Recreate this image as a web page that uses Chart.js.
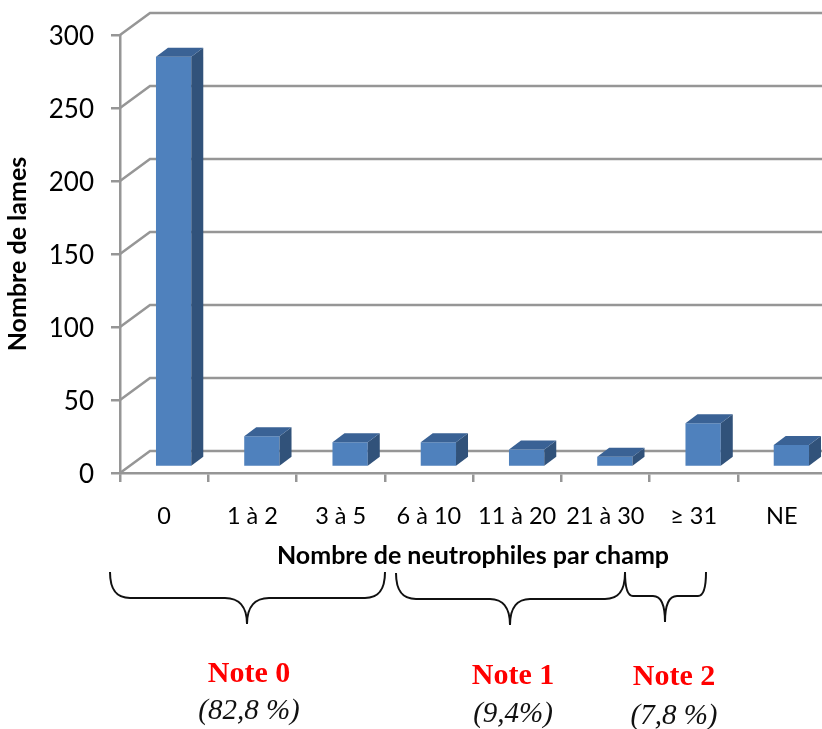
<!DOCTYPE html>
<html>
<head>
<meta charset="utf-8">
<script src="https://cdn.jsdelivr.net/npm/chart.js@4"></script>
<style>
  html, body { margin: 0; padding: 0; background: #fff; overflow: hidden; }
  canvas { display: block; }
</style>
</head>
<body>
<canvas id="neutrophilesChart" width="826" height="729"></canvas>
<script>
const categories = ['0', '1 à 2', '3 à 5', '6 à 10', '11 à 20', '21 à 30', '≥ 31', 'NE'];
const lames = [281, 21, 17, 17, 12, 7, 30, 15];
const noteLabels = ['Note 0', 'Note 1', 'Note 2'];
const notePercents = ['(82,8 %)', '(9,4%)', '(7,8 %)'];

const gridColor = '#969696';
const uiFont = 'Lato, sans-serif';

// Parois et relief 3D, calés sur les échelles du graphique
const wallPlugin = {
  id: 'wall3d',
  beforeDatasetsDraw(chart) {
    const { ctx, chartArea, scales } = chart;
    ctx.save();
    ctx.strokeStyle = gridColor;
    ctx.lineWidth = 2.5;
    scales.y.ticks.forEach(tick => {
      const y = scales.y.getPixelForValue(tick.value);
      ctx.beginPath();
      ctx.moveTo(chartArea.left, y);
      ctx.lineTo(chartArea.left + 30, y - 22);
      ctx.lineTo(chartArea.right, y - 22);
      ctx.stroke();
    });
    ctx.restore();
    // les barres sont posées au milieu du plancher
    ctx.save();
    ctx.translate(9.5, -6);
  },
  afterDatasetsDraw(chart) {
    const { ctx } = chart;
    const dx = 12, dy = 9;
    chart.getDatasetMeta(0).data.forEach(bar => {
      const left = bar.x - bar.width / 2;
      const right = bar.x + bar.width / 2;
      ctx.fillStyle = '#31527a';
      ctx.beginPath();
      ctx.moveTo(right, bar.y);
      ctx.lineTo(right + dx, bar.y - dy);
      ctx.lineTo(right + dx, bar.base - dy);
      ctx.lineTo(right, bar.base);
      ctx.closePath();
      ctx.fill();
      ctx.fillStyle = '#3a6295';
      ctx.beginPath();
      ctx.moveTo(left, bar.y);
      ctx.lineTo(left + dx, bar.y - dy);
      ctx.lineTo(right + dx, bar.y - dy);
      ctx.lineTo(right, bar.y);
      ctx.closePath();
      ctx.fill();
    });
    ctx.restore();
  }
};

function drawBrace(ctx, x1, x2, tip, top, mid, end, r, s) {
  ctx.beginPath();
  ctx.moveTo(x1, top);
  ctx.bezierCurveTo(x1, mid - 6, x1 + r * 0.4, mid, x1 + r, mid);
  ctx.lineTo(tip - s, mid);
  ctx.bezierCurveTo(tip - s * 0.4, mid, tip, mid + 8, tip, end);
  ctx.bezierCurveTo(tip, mid + 8, tip + s * 0.4, mid, tip + s, mid);
  ctx.lineTo(x2 - r, mid);
  ctx.bezierCurveTo(x2 - r * 0.4, mid, x2, mid - 6, x2, top);
  ctx.stroke();
}

// Accolades et notes sous le graphique
const notesPlugin = {
  id: 'notes',
  afterDraw(chart) {
    const { ctx } = chart;
    ctx.save();
    ctx.strokeStyle = '#111';
    ctx.lineWidth = 2;
    drawBrace(ctx, 110, 385, 247, 572, 598, 624, 20, 22);
    drawBrace(ctx, 396, 625, 510, 573, 599, 625, 20, 20);
    drawBrace(ctx, 625, 706, 665, 572, 596, 622, 8, 12);

    ctx.textAlign = 'center';
    ctx.textBaseline = 'middle';
    const xs = [249, 513, 674];
    const yNote = [674, 676, 677];
    const yPct = [711, 714, 716];
    noteLabels.forEach((label, i) => {
      ctx.font = 'bold 30px "Liberation Serif", serif';
      ctx.fillStyle = '#ff0000';
      ctx.fillText(label, xs[i], yNote[i]);
      ctx.font = 'italic 29px "Liberation Serif", serif';
      ctx.fillStyle = '#111';
      ctx.fillText(notePercents[i], xs[i], yPct[i]);
    });
    ctx.restore();
  }
};

const ctx = document.getElementById('neutrophilesChart').getContext('2d');

new Chart(ctx, {
  type: 'bar',
  data: {
    labels: categories,
    datasets: [{
      label: 'Nombre de lames',
      data: lames,
      backgroundColor: '#4f81bd',
      borderWidth: 0,
      categoryPercentage: 1,
      barPercentage: 0.4
    }]
  },
  plugins: [wallPlugin, notesPlugin],
  options: {
    responsive: false,
    animation: false,
    layout: { padding: { top: 35, left: 0, right: 0, bottom: 0 } },
    plugins: { legend: { display: false }, tooltip: { enabled: false } },
    scales: {
      x: {
        offset: true,
        afterFit: scale => { scale.height = 256; },
        grid: { offset: true, drawOnChartArea: false, color: gridColor, lineWidth: 2.5, tickLength: 9 },
        border: { color: gridColor, width: 2.5 },
        ticks: { color: '#000', font: { family: uiFont, size: 23.5 }, padding: 20, maxRotation: 0, autoSkip: false },
        title: {
          display: true,
          text: 'Nombre de neutrophiles par champ',
          color: '#000',
          font: { family: uiFont, size: 25, weight: 'bold' },
          padding: { top: 0, bottom: 158 }
        }
      },
      y: {
        min: 0,
        max: 300,
        afterFit: scale => { scale.width = 120; },
        grid: { drawOnChartArea: false, color: gridColor, lineWidth: 2.5, tickLength: 9 },
        border: { color: gridColor, width: 2.5 },
        ticks: { stepSize: 50, color: '#000', font: { family: uiFont, size: 26 }, padding: 17, labelOffset: 2 },
        title: {
          display: true,
          text: 'Nombre de lames',
          color: '#000',
          font: { family: uiFont, size: 25, weight: 'bold' },
          padding: { top: 3, bottom: 0 }
        }
      }
    }
  }
});
</script>
</body>
</html>
